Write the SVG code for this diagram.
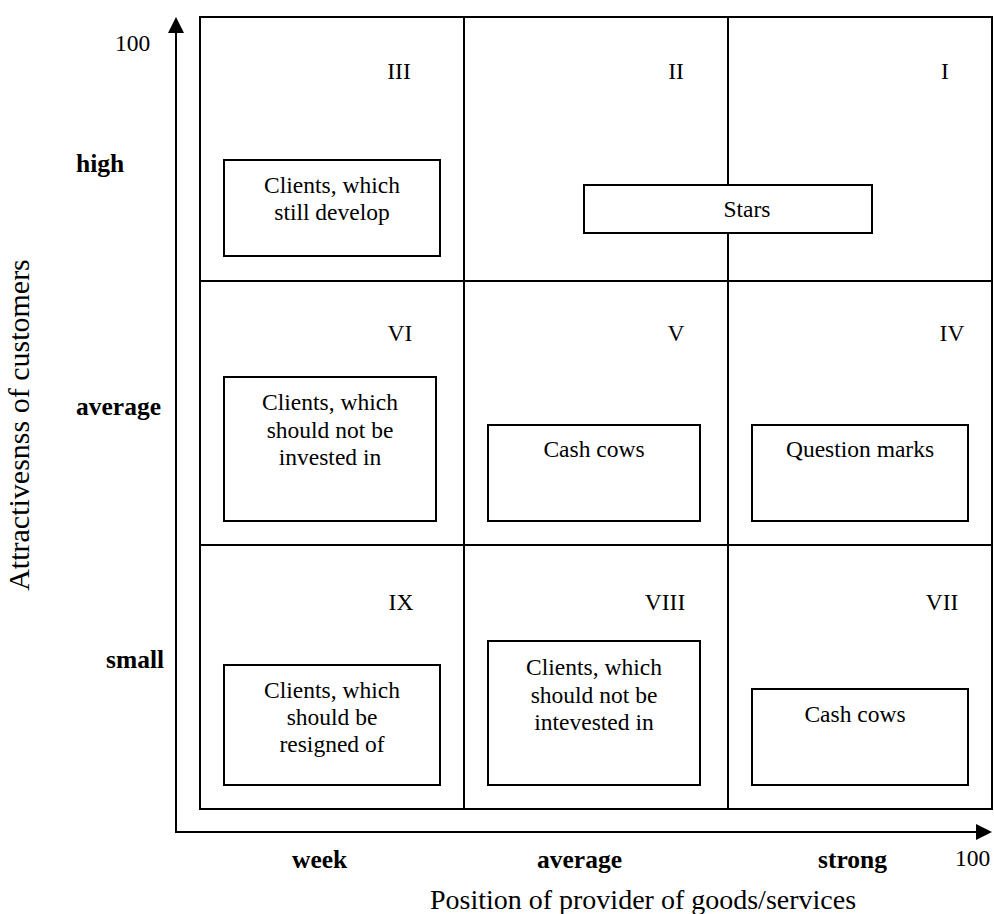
<svg xmlns="http://www.w3.org/2000/svg" width="994" height="914" viewBox="0 0 994 914">
<style>
text{font-family:"Liberation Serif","Times New Roman",serif;font-size:23.5px;fill:#000}
.b{font-weight:bold;font-size:25.5px}
.c{text-anchor:middle}
.t{font-size:28px}
.v{font-size:30px}
.box{fill:#fff;stroke:#000;stroke-width:2}
.ln{stroke:#000;stroke-width:2;fill:none}
</style>
<defs>
<marker id="ah" markerWidth="16" markerHeight="16" refX="14" refY="8" orient="auto" markerUnits="userSpaceOnUse">
<path d="M0,0 L16,8 L0,16 Z" fill="#000"/>
</marker>
</defs>
<rect width="994" height="914" fill="#fff"/>
<g id="connectors">
<line class="ln" x1="176" y1="833" x2="176" y2="19" marker-end="url(#ah)"/>
<line class="ln" x1="175" y1="832" x2="990" y2="832" marker-end="url(#ah)"/>
</g>
<g id="grid">
<rect class="ln" x="200" y="17" width="792" height="792"/>
<line class="ln" x1="464" y1="17" x2="464" y2="809"/>
<line class="ln" x1="728" y1="17" x2="728" y2="809"/>
<line class="ln" x1="200" y1="281" x2="992" y2="281"/>
<line class="ln" x1="200" y1="545" x2="992" y2="545"/>
</g>
<g id="axis-labels">
<text x="115" y="51">100</text>
<text class="b" x="76" y="172">high</text>
<text class="b" x="76" y="415">average</text>
<text class="b" x="106" y="668">small</text>
<text class="b" x="292" y="868">week</text>
<text class="b" x="537" y="868">average</text>
<text class="b" x="818" y="868">strong</text>
<text x="955" y="866">100</text>
<text class="c t" x="643" y="909">Position of provider of goods/services</text>
<text class="c v" transform="translate(29,425) rotate(-90)">Attractivesnss of customers</text>
</g>
<g id="numerals">
<text class="c" x="399" y="79">III</text>
<text class="c" x="676" y="79">II</text>
<text class="c" x="945" y="79">I</text>
<text class="c" x="400" y="341">VI</text>
<text class="c" x="676" y="341">V</text>
<text class="c" x="952" y="341">IV</text>
<text class="c" x="401" y="610">IX</text>
<text class="c" x="665" y="610">VIII</text>
<text class="c" x="942" y="610">VII</text>
</g>
<g id="node-III">
<rect class="box" x="224" y="160" width="216" height="96"/>
<text class="c" x="332" y="193">Clients, which</text>
<text class="c" x="332" y="220">still develop</text>
</g>
<g id="node-stars">
<rect class="box" x="584" y="185" width="288" height="48"/>
<text class="c" x="747" y="217">Stars</text>
</g>
<g id="node-VI">
<rect class="box" x="224" y="377" width="212" height="144"/>
<text class="c" x="330" y="410">Clients, which</text>
<text class="c" x="330" y="438">should not be</text>
<text class="c" x="330" y="465">invested in</text>
</g>
<g id="node-V">
<rect class="box" x="488" y="425" width="212" height="96"/>
<text class="c" x="594" y="457">Cash cows</text>
</g>
<g id="node-IV">
<rect class="box" x="752" y="425" width="216" height="96"/>
<text class="c" x="860" y="457">Question marks</text>
</g>
<g id="node-IX">
<rect class="box" x="224" y="665" width="216" height="120"/>
<text class="c" x="332" y="698">Clients, which</text>
<text class="c" x="332" y="725">should be</text>
<text class="c" x="332" y="752">resigned of</text>
</g>
<g id="node-VIII">
<rect class="box" x="488" y="641" width="212" height="144"/>
<text class="c" x="594" y="675">Clients, which</text>
<text class="c" x="594" y="703">should not be</text>
<text class="c" x="594" y="730">intevested in</text>
</g>
<g id="node-VII">
<rect class="box" x="752" y="689" width="216" height="96"/>
<text class="c" x="855" y="722">Cash cows</text>
</g>
</svg>
